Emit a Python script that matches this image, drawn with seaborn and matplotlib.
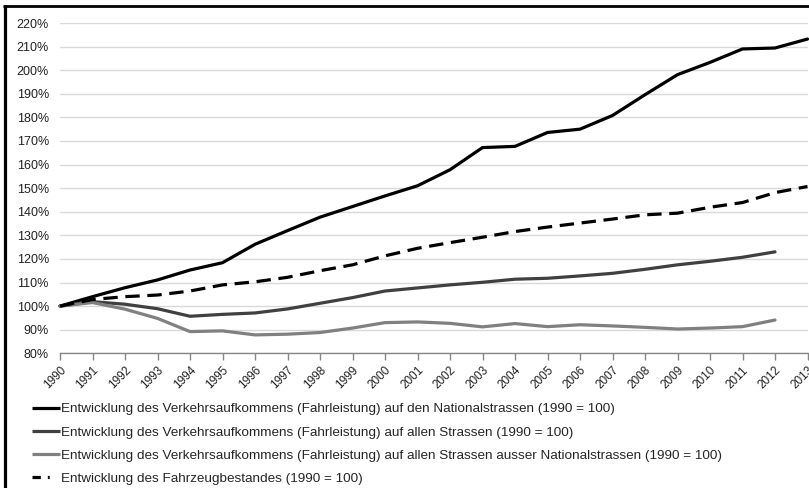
import pandas as pd
import matplotlib.pyplot as plt
import matplotlib.lines as mlines
import seaborn as sns

years = list(range(1990, 2014))

national = [100, 104, 107.8, 111.1, 115.3, 118.4, 126.2, 132, 137.7, 142.2, 146.7, 151,
            157.8, 167.2, 167.7, 173.6, 175, 180.8, 189.6, 198.1, 203.3, 209, 209.4, 213.2]
alle = [100, 101.9, 100.8, 98.9, 95.7, 96.5, 97.1, 98.8, 101.2, 103.6, 106.4, 107.7,
        109, 110.1, 111.4, 111.8, 112.8, 113.9, 115.6, 117.5, 119, 120.7, 123]
ausser = [100, 101.5, 98.7, 94.8, 89.2, 89.5, 87.8, 88.1, 88.8, 90.7, 93, 93.3,
          92.7, 91.2, 92.6, 91.3, 92.1, 91.6, 91, 90.3, 90.7, 91.3, 94.1]
fahrzeug = [100, 102.8, 104, 104.7, 106.4, 109, 110.3, 112.2, 115, 117.5, 121.3, 124.5,
            126.9, 129.2, 131.6, 133.5, 135.2, 136.9, 138.7, 139.4, 141.9, 143.9, 148.1, 150.7]

labels = [
    "Entwicklung des Verkehrsaufkommens (Fahrleistung) auf den Nationalstrassen (1990 = 100)",
    "Entwicklung des Verkehrsaufkommens (Fahrleistung) auf allen Strassen (1990 = 100)",
    "Entwicklung des Verkehrsaufkommens (Fahrleistung) auf allen Strassen ausser Nationalstrassen (1990 = 100)",
    "Entwicklung des Fahrzeugbestandes (1990 = 100)",
]
colors = ["#000000", "#404040", "#808080", "#000000"]

sns.set_style("white")
plt.rcParams['font.family'] = ['Liberation Sans', 'DejaVu Sans']

fig = plt.figure(figsize=(8.09, 4.88), dpi=100)
ax = fig.add_axes([60 / 809, 1 - 353.3 / 488, 747.5 / 809, 330.3 / 488])

series = [national, alle, ausser, fahrzeug]
handles = []
for vals, lab, col in zip(series, labels, colors):
    df = pd.DataFrame({'Jahr': years[:len(vals)], 'Wert': vals})
    dashed = lab.startswith("Entwicklung des Fahrzeug")
    sns.lineplot(data=df, x='Jahr', y='Wert', ax=ax, color=col, lw=2.3,
                 linestyle=(0, (4.5, 2.4)) if dashed else '-', clip_on=False)
    handles.append(mlines.Line2D([], [], color=col, lw=2.3, solid_capstyle='butt',
                                 linestyle=(0, (2.6, 2.2, 0.6, 5)) if dashed else '-'))

ax.set_xlim(1990, 2013)
ax.set_ylim(80, 220)
ax.set_yticks(range(80, 221, 10))
ax.set_yticklabels([f"{v}%" for v in range(80, 221, 10)], fontsize=9, color="#222222")
ax.set_xticks(years)
ax.set_xticklabels([str(y) for y in years], rotation=45, ha='right', va='top',
                   rotation_mode='anchor', fontsize=8.5, color="#222222")
ax.tick_params(axis='y', length=0, pad=8)
ax.tick_params(axis='x', length=5, width=1, color="#868686", pad=3, bottom=True)
ax.grid(axis='y', color="#d9d9d9", lw=1)
ax.set_axisbelow(True)
for s in ['left', 'right', 'top']:
    ax.spines[s].set_visible(False)
ax.spines['bottom'].set_color("#868686")
ax.spines['bottom'].set_linewidth(1)
ax.set_xlabel("")
ax.set_ylabel("")

fig.legend(handles, labels, loc='upper left', bbox_to_anchor=(32 / 809, 1 - 403 / 488),
           frameon=False, fontsize=9.7, handlelength=2.1, handletextpad=0.08,
           labelspacing=0.8, borderaxespad=0, borderpad=0)

# black frame on left and top edge
fig.add_artist(mlines.Line2D([4.6 / 809, 4.6 / 809], [0, 1 - 5 / 488], color='black', lw=2.3,
                             transform=fig.transFigure, solid_capstyle='butt'))
fig.add_artist(mlines.Line2D([3 / 809, 1], [1 - 6 / 488, 1 - 6 / 488], color='black', lw=2.0,
                             transform=fig.transFigure, solid_capstyle='butt'))

plt.savefig("out.png", dpi=100)
